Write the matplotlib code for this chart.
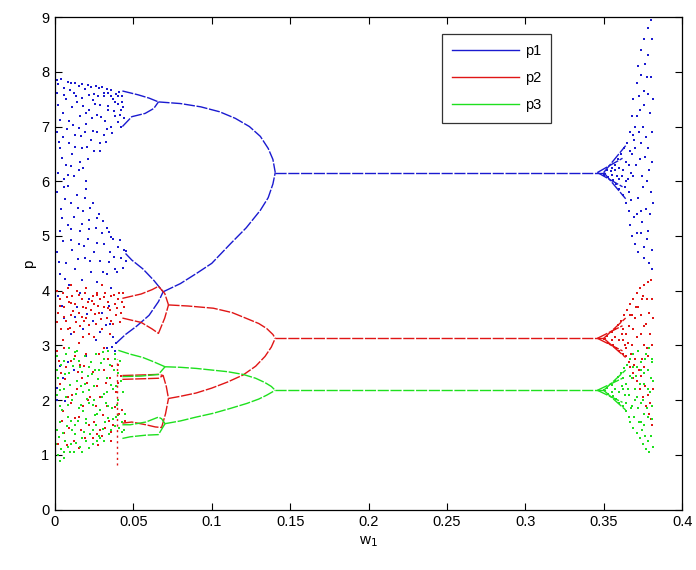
import matplotlib
matplotlib.use("Agg")
import matplotlib.pyplot as plt
from matplotlib.lines import Line2D

plt.rcParams['font.family'] = ['Liberation Sans', 'DejaVu Sans']

# ---------------- data ----------------
x_ticks = [0, 0.05, 0.1, 0.15, 0.2, 0.25, 0.3, 0.35, 0.4]
x_tick_labels = ['0', '0.05', '0.1', '0.15', '0.2', '0.25', '0.3', '0.35', '0.4']
y_ticks = [0, 1, 2, 3, 4, 5, 6, 7, 8, 9]
series_names = ['p1', 'p2', 'p3']
series_colors = ['#1a1ad0', '#e01515', '#1ee01e']

# periodic branches: list of (w list, p list)
p1_branches = [
    ([0.1405, 0.352], [6.16, 6.16]),
    ([0.346, 0.362], [6.16, 6.42]),
    ([0.346, 0.362], [6.16, 5.9]),
    ([0.350, 0.364], [6.16, 6.65]),
    ([0.350, 0.364], [6.16, 5.68]),
    ([0.066, 0.08, 0.093, 0.105, 0.115, 0.124, 0.131, 0.136, 0.139, 0.1405],
     [7.45, 7.42, 7.36, 7.27, 7.15, 7.0, 6.82, 6.6, 6.4, 6.16]),
    ([0.069, 0.08, 0.0905, 0.1, 0.112, 0.122, 0.131, 0.136, 0.139, 0.1405],
     [3.98, 4.13, 4.32, 4.5, 4.86, 5.15, 5.47, 5.7, 5.95, 6.16]),
    ([0.043, 0.053, 0.06, 0.066], [7.65, 7.58, 7.52, 7.45]),
    ([0.043, 0.049, 0.0575, 0.063, 0.066], [7.0, 7.18, 7.24, 7.33, 7.45]),
    ([0.045, 0.049, 0.056, 0.063, 0.069], [4.68, 4.56, 4.4, 4.19, 3.98]),
    ([0.039, 0.045, 0.052, 0.06, 0.066, 0.069], [3.04, 3.2, 3.35, 3.55, 3.8, 3.98]),
]
p2_branches = [
    ([0.1405, 0.352], [3.13, 3.13]),
    ([0.346, 0.362], [3.13, 3.36]),
    ([0.346, 0.362], [3.13, 2.9]),
    ([0.350, 0.364], [3.13, 3.5]),
    ([0.350, 0.364], [3.13, 2.78]),
    ([0.0724, 0.085, 0.101, 0.113, 0.1224, 0.13, 0.135, 0.139, 0.1405],
     [3.74, 3.72, 3.68, 3.6, 3.49, 3.4, 3.31, 3.2, 3.13]),
    ([0.0724, 0.08, 0.09, 0.1, 0.11, 0.12, 0.128, 0.134, 0.138, 0.1405],
     [2.03, 2.07, 2.13, 2.22, 2.33, 2.46, 2.62, 2.8, 2.97, 3.13]),
    ([0.043, 0.055, 0.062, 0.066, 0.070, 0.0724], [3.86, 3.94, 4.02, 4.08, 3.95, 3.74]),
    ([0.043, 0.055, 0.062, 0.066, 0.070, 0.0724], [3.5, 3.42, 3.3, 3.22, 3.5, 3.74]),
    ([0.043, 0.055, 0.066, 0.069, 0.071, 0.0724], [2.45, 2.46, 2.47, 2.45, 2.25, 2.03]),
    ([0.043, 0.055, 0.066, 0.069], [2.38, 2.39, 2.4, 2.45]),
    ([0.043, 0.049, 0.058, 0.064, 0.068, 0.0705, 0.0724], [1.58, 1.6, 1.55, 1.51, 1.5, 1.75, 2.03]),
]
p2_streak = ([0.0394, 0.0394], [0.81, 2.75])
p3_branches = [
    ([0.1405, 0.352], [2.18, 2.18]),
    ([0.346, 0.362], [2.18, 2.4]),
    ([0.346, 0.362], [2.18, 1.96]),
    ([0.350, 0.364], [2.18, 2.55]),
    ([0.350, 0.364], [2.18, 1.82]),
    ([0.0702, 0.08, 0.09, 0.1, 0.11, 0.12, 0.128, 0.134, 0.138, 0.1405],
     [2.61, 2.6, 2.58, 2.55, 2.52, 2.47, 2.4, 2.32, 2.25, 2.18]),
    ([0.0702, 0.08, 0.09, 0.101, 0.112, 0.1224, 0.13, 0.135, 0.1405],
     [1.57, 1.62, 1.69, 1.76, 1.85, 1.94, 2.02, 2.09, 2.18]),
    ([0.0404, 0.048, 0.056, 0.063, 0.0702], [2.91, 2.84, 2.78, 2.7, 2.61]),
    ([0.043, 0.055, 0.066, 0.0702], [2.43, 2.44, 2.47, 2.61]),
    ([0.043, 0.048, 0.058, 0.066, 0.068, 0.0702], [1.55, 1.55, 1.6, 1.69, 1.66, 1.57]),
    ([0.043, 0.048, 0.058, 0.066, 0.0702], [1.3, 1.33, 1.36, 1.37, 1.57]),
]

# chaotic points (w, p)
p1_chaos = [
    (0.001,7.85),(0.002,7.78),(0.004,7.86),(0.006,7.7),(0.008,7.82),(0.010,7.8),(0.012,7.62),(0.013,7.79),
    (0.015,7.74),(0.017,7.78),(0.019,7.68),(0.021,7.76),(0.023,7.72),(0.025,7.6),(0.026,7.74),(0.028,7.7),
    (0.030,7.72),(0.031,7.55),(0.033,7.68),(0.034,7.62),(0.036,7.66),(0.037,7.5),(0.039,7.6),(0.040,7.42),
    (0.041,7.64),(0.042,7.3),(0.043,7.55),(0.044,7.15),
    (0.002,7.4),(0.005,7.25),(0.007,7.5),(0.009,7.1),(0.011,7.35),(0.014,7.45),(0.016,7.2),(0.018,7.38),
    (0.02,7.05),(0.022,7.3),(0.024,7.48),(0.027,7.22),(0.029,7.4),(0.032,7.1),(0.034,7.3),(0.036,7.0),
    (0.038,7.2),(0.040,7.08),(0.042,7.0),
    (0.0015,7.62),(0.0035,7.12),(0.0055,7.58),(0.0075,6.95),(0.0095,7.66),(0.0115,7.02),(0.0135,7.55),
    (0.0155,6.98),(0.0175,7.52),(0.0195,7.25),(0.0215,7.58),(0.0235,7.15),(0.0255,7.42),(0.0275,7.56),
    (0.0295,7.18),(0.0315,7.62),(0.0335,7.38),(0.0355,7.55),(0.0375,7.28),(0.0385,7.45),(0.0405,7.55),
    (0.0415,7.22),(0.0425,7.45),(0.0435,7.35),
    (0.001,6.9),(0.003,6.6),(0.005,6.8),(0.007,6.3),(0.009,6.7),(0.011,6.5),(0.013,6.85),(0.015,6.2),
    (0.017,6.6),(0.019,6.9),(0.021,6.4),(0.023,6.75),(0.025,6.55),(0.027,6.9),(0.029,6.7),(0.031,6.85),
    (0.033,6.95),(0.002,6.15),(0.006,6.05),(0.012,6.1),(0.016,6.35),(0.020,6.0),(0.018,6.25),
    (0.0045,6.42),(0.0085,6.12),(0.0125,6.62),(0.0165,6.82),(0.0205,6.62),(0.0245,6.92),(0.0285,6.55),
    (0.0325,6.72),(0.0365,6.88),(0.0105,6.28),(0.0025,6.72),
    (0.001,5.8),(0.004,5.5),(0.006,5.9),(0.008,5.2),(0.010,5.6),(0.012,5.35),(0.014,5.75),(0.016,5.1),
    (0.018,5.45),(0.020,5.85),(0.022,5.3),(0.024,5.6),(0.026,5.15),(0.028,5.4),(0.030,5.05),(0.019,5.7),
    (0.003,5.1),(0.033,5.15),
    (0.0045,5.32),(0.0065,5.68),(0.0085,5.92),(0.0105,5.12),(0.0145,5.52),(0.0175,5.22),(0.0225,5.52),
    (0.0265,5.32),(0.0305,5.28),(0.0345,5.08),(0.0215,5.12),
    (0.001,4.7),(0.003,4.3),(0.005,4.9),(0.007,4.5),(0.009,4.1),(0.011,4.75),(0.013,4.4),(0.015,4.85),
    (0.017,4.2),(0.019,4.6),(0.021,4.95),(0.023,4.35),(0.025,4.7),(0.027,4.15),(0.029,4.55),(0.031,4.85),
    (0.033,4.3),(0.035,4.7),(0.037,4.95),(0.038,4.4),(0.040,4.8),(0.042,4.6),(0.044,4.75),(0.045,4.55),
    (0.036,4.05),
    (0.0025,4.52),(0.0065,4.22),(0.0105,4.92),(0.0145,4.58),(0.0185,4.82),(0.0225,4.55),(0.0265,4.88),
    (0.0305,4.35),(0.0345,4.52),(0.0375,4.62),(0.0395,4.35),(0.0415,4.92),(0.0435,4.42),(0.0455,4.72),
    (0.0355,4.98),
    (0.002,3.9),(0.006,3.5),(0.01,3.2),(0.014,3.7),(0.018,3.3),(0.022,3.85),(0.026,3.1),(0.03,3.6),
    (0.033,2.95),(0.035,3.4),(0.037,3.15),(0.038,2.9),(0.039,3.05),(0.028,2.85),(0.016,3.95),(0.024,3.45),
    (0.0045,3.72),(0.0125,3.52),(0.0205,3.58),(0.0285,3.25),(0.0325,3.38),(0.0365,2.98),(0.0345,3.72),
    (0.001,2.0),(0.003,1.9),(0.005,2.4),(0.008,2.7),(0.012,2.55),(0.02,2.8),
    (0.0015,2.22),(0.0035,2.62),(0.0065,1.98),
    (0.350,6.12),(0.352,6.2),(0.353,6.08),(0.355,6.25),(0.356,6.02),(0.357,6.3),(0.358,5.95),(0.359,6.4),
    (0.360,5.85),(0.361,6.5),(0.362,5.75),(0.363,6.6),(0.364,5.6),(0.362,6.2),(0.360,6.05),(0.364,6.0),
    (0.365,6.7),(0.366,5.45),(0.366,6.3),(0.367,5.2),(0.367,6.9),(0.368,7.2),(0.368,5.0),(0.369,6.1),
    (0.369,7.5),(0.370,4.85),(0.370,6.6),(0.371,7.8),(0.371,5.4),(0.372,8.1),(0.372,4.7),(0.373,6.4),
    (0.373,7.3),(0.374,8.4),(0.374,5.05),(0.375,5.9),(0.375,7.0),(0.376,8.6),(0.376,4.6),(0.377,6.8),
    (0.377,5.5),(0.378,8.8),(0.378,7.6),(0.379,4.5),(0.379,6.2),(0.380,8.95),(0.380,5.8),(0.380,7.9),
    (0.381,4.4),(0.381,6.9),(0.378,5.1),(0.376,7.4),(0.374,6.7),(0.372,5.7),(0.370,7.0),(0.368,6.5),
    (0.366,5.8),
    (0.3655,6.05),(0.3665,6.55),(0.3675,5.65),(0.3685,6.85),(0.3695,5.35),(0.3705,6.3),(0.3715,7.2),
    (0.3715,5.05),(0.3725,6.9),(0.3735,5.45),(0.3735,7.95),(0.3745,6.1),(0.3755,7.65),(0.3755,4.8),
    (0.3765,6.45),(0.3775,7.9),(0.3775,4.95),(0.3785,6.6),(0.3785,8.3),(0.3795,5.4),(0.3795,7.25),
    (0.3805,8.6),(0.3805,4.75),(0.3805,6.35),(0.3812,7.5),(0.3812,5.6),(0.3725,7.55),(0.3745,5.25),
    (0.3765,8.15),(0.3775,6.0),(0.3695,6.75),(0.3675,6.15),(0.3645,6.35),(0.3635,5.9),(0.3615,6.1),
    (0.3595,6.25),(0.3585,6.1),(0.3575,6.2),(0.3555,6.12),(0.3545,6.18),
]
p2_chaos = [
    (0.001,4.0),(0.002,3.6),(0.003,3.85),(0.004,3.3),(0.005,3.95),(0.006,3.7),(0.007,3.45),(0.008,4.05),
    (0.009,3.8),(0.010,3.55),(0.011,3.9),(0.012,3.25),(0.013,3.75),(0.014,4.0),(0.015,3.6),(0.016,3.35),
    (0.017,3.85),(0.018,3.7),(0.019,3.95),(0.020,3.5),(0.021,3.8),(0.022,3.2),(0.023,3.65),(0.024,3.9),
    (0.025,3.75),(0.026,3.4),(0.027,3.95),(0.028,3.6),(0.029,3.85),(0.030,3.3),(0.031,3.7),(0.032,3.95),
    (0.033,3.5),(0.034,3.8),(0.035,3.65),(0.036,3.9),(0.037,3.4),(0.038,3.75),(0.039,3.55),(0.040,3.85),
    (0.041,3.95),(0.042,3.6),(0.043,3.8),(0.044,3.7),(0.005,3.1),(0.015,3.05),(0.025,3.15),(0.035,3.2),
    (0.01,4.1),(0.02,4.05),(0.03,4.1),(0.018,3.15),(0.008,3.3),
    (0.0015,3.42),(0.0035,3.72),(0.0055,3.52),(0.0075,3.88),(0.0095,3.32),(0.0115,3.62),(0.0135,3.42),
    (0.0155,3.92),(0.0175,3.52),(0.0195,3.68),(0.0215,3.38),(0.0235,3.82),(0.0255,3.58),(0.0275,3.72),
    (0.0295,3.48),(0.0315,3.88),(0.0335,3.68),(0.0355,3.45),(0.0375,3.92),(0.0395,3.68),(0.0415,3.42),
    (0.0435,3.95),(0.0105,3.78),(0.0265,3.92),(0.0185,3.45),
    (0.001,2.9),(0.003,2.3),(0.005,1.8),(0.007,2.6),(0.009,1.5),(0.011,2.1),(0.013,2.8),(0.015,1.7),
    (0.017,2.4),(0.019,1.3),(0.021,2.0),(0.023,2.7),(0.025,1.6),(0.027,2.25),(0.029,1.45),(0.031,2.55),
    (0.033,1.9),(0.035,2.4),(0.037,1.55),(0.039,2.15),(0.040,2.65),(0.041,1.75),(0.042,2.45),(0.043,1.6),
    (0.002,1.2),(0.006,1.4),(0.012,1.25),(0.018,1.9),(0.024,1.3),(0.030,1.35),(0.036,1.25),(0.014,2.2),
    (0.022,1.55),(0.028,2.85),(0.034,2.75),(0.016,2.65),(0.004,2.5),(0.010,1.95),(0.026,1.9),(0.032,1.5),
    (0.0025,2.72),(0.0045,1.62),(0.0065,2.38),(0.0085,2.05),(0.0105,2.72),(0.0125,1.68),(0.0145,2.52),
    (0.0165,1.45),(0.0185,2.62),(0.0205,2.32),(0.0225,2.05),(0.0245,2.52),(0.0265,1.38),(0.0285,2.05),
    (0.0305,1.72),(0.0325,2.32),(0.0345,1.62),(0.0365,2.62),(0.0385,1.88),(0.0405,2.32),(0.0425,1.82),
    (0.0445,1.62),(0.0155,1.12),(0.0275,1.18),(0.0355,1.42),(0.0075,1.18),(0.0195,2.85),(0.0315,2.95),
    (0.0055,2.95),
    (0.350,3.12),(0.352,3.18),(0.353,3.05),(0.355,3.25),(0.356,3.0),(0.357,3.3),(0.358,2.95),(0.359,3.38),
    (0.360,2.9),(0.361,3.45),(0.362,2.85),(0.363,3.55),(0.364,2.8),(0.362,3.1),(0.364,3.2),(0.365,3.65),
    (0.366,2.7),(0.366,3.35),(0.367,3.75),(0.367,2.6),(0.368,3.0),(0.369,3.85),(0.369,2.5),(0.370,3.5),
    (0.371,3.95),(0.371,2.35),(0.372,2.9),(0.372,3.7),(0.373,4.05),(0.373,2.2),(0.374,3.2),(0.375,2.05),
    (0.375,3.9),(0.376,2.6),(0.376,4.1),(0.377,1.9),(0.377,3.4),(0.378,2.8),(0.378,4.15),(0.379,1.75),
    (0.379,3.6),(0.380,2.4),(0.380,4.2),(0.381,1.55),(0.381,3.0),(0.380,1.65),(0.374,2.45),(0.370,2.75),
    (0.368,3.55),(0.376,3.0),
    (0.3655,3.05),(0.3665,3.55),(0.3675,2.85),(0.3685,3.3),(0.3695,2.65),(0.3705,3.7),(0.3715,3.15),
    (0.3725,2.55),(0.3735,3.55),(0.3745,2.75),(0.3755,3.35),(0.3765,2.25),(0.3775,3.85),(0.3785,2.1),
    (0.3795,3.2),(0.3805,2.7),(0.3805,3.85),(0.3812,2.2),(0.3812,3.5),(0.3795,1.95),(0.3635,3.0),
    (0.3615,3.2),(0.3595,3.1),(0.3575,3.15),(0.3555,3.1),(0.3625,3.3),(0.3645,2.95),(0.3685,2.4),
    (0.3745,3.85),(0.3775,2.95),
]
p3_chaos = [
    (0.001,2.8),(0.002,2.4),(0.003,1.9),(0.004,2.65),(0.005,1.4),(0.006,2.2),(0.007,2.85),(0.008,1.7),
    (0.009,2.5),(0.010,1.2),(0.011,2.0),(0.012,2.75),(0.013,1.55),(0.014,2.35),(0.015,1.85),(0.016,2.6),
    (0.017,1.3),(0.018,2.15),(0.019,2.8),(0.020,1.65),(0.021,2.45),(0.022,1.95),(0.023,2.7),(0.024,1.45),
    (0.025,2.25),(0.026,2.85),(0.027,1.75),(0.028,2.55),(0.029,1.3),(0.030,2.05),(0.031,2.75),(0.032,1.6),
    (0.033,2.4),(0.034,1.9),(0.035,2.65),(0.036,1.45),(0.037,2.2),(0.038,2.85),(0.039,1.7),(0.040,2.5),
    (0.041,1.5),(0.042,2.35),(0.043,1.6),(0.044,1.45),(0.002,1.0),(0.004,1.1),(0.006,0.95),(0.008,1.15),
    (0.003,1.6),(0.007,2.05),(0.012,1.05),(0.016,1.15),(0.020,1.25),(0.024,1.2),(0.028,1.35),(0.001,2.1),
    (0.009,2.95),(0.014,2.9),(0.019,2.3),(0.022,2.6),(0.026,1.55),(0.031,1.25),(0.034,2.9),(0.037,1.65),
    (0.040,2.0),(0.0,0.7),(0.011,1.45),(0.018,1.8),(0.025,2.0),(0.033,2.15),(0.039,2.25),
    (0.0015,2.55),(0.0035,2.18),(0.0055,2.72),(0.0075,1.52),(0.0095,2.28),(0.0115,2.62),(0.0135,2.12),
    (0.0155,2.72),(0.0175,2.52),(0.0195,1.58),(0.0215,2.18),(0.0235,2.48),(0.0255,1.72),(0.0275,2.38),
    (0.0295,2.68),(0.0315,2.12),(0.0335,1.68),(0.0355,2.28),(0.0375,2.55),(0.0395,1.92),(0.0415,2.72),
    (0.0435,2.15),(0.0445,1.75),
    (0.0025,1.32),(0.0045,1.82),(0.0065,1.25),(0.0085,1.92),(0.0105,1.62),(0.0125,1.38),(0.0145,1.62),
    (0.0165,1.92),(0.0185,1.42),(0.0205,2.02),(0.0225,1.38),(0.0245,1.92),(0.0265,1.25),(0.0285,1.82),
    (0.0305,1.48),(0.0325,1.95),(0.0345,1.38),(0.0365,1.85),(0.0385,1.52),(0.0405,1.72),(0.0425,1.42),
    (0.0015,1.45),(0.0055,1.05),(0.0095,1.05),(0.0135,1.22),(0.0175,1.05),(0.0215,1.12),(0.0035,0.88),
    (0.0005,1.2),(0.0255,2.55),(0.0165,2.25),(0.0065,2.48),(0.0125,2.88),(0.0305,2.88),(0.0385,2.75),
    (0.350,2.18),(0.352,2.22),(0.353,2.12),(0.355,2.28),(0.356,2.08),(0.357,2.35),(0.358,2.02),(0.359,2.42),
    (0.360,1.95),(0.361,2.5),(0.362,1.9),(0.362,2.2),(0.363,2.58),(0.364,1.8),(0.364,2.3),(0.365,2.65),
    (0.366,1.7),(0.366,2.1),(0.367,2.75),(0.367,1.6),(0.368,2.4),(0.369,2.85),(0.369,1.5),(0.370,2.0),
    (0.371,2.6),(0.371,1.4),(0.372,2.9),(0.372,1.85),(0.373,1.3),(0.373,2.3),(0.374,2.7),(0.375,1.2),
    (0.375,2.0),(0.376,2.5),(0.376,1.55),(0.377,2.85),(0.377,1.1),(0.378,2.2),(0.378,1.7),(0.379,2.95),
    (0.379,1.05),(0.380,2.4),(0.380,1.35),(0.381,1.9),(0.381,2.7),(0.370,2.2),(0.368,1.9),(0.374,1.6),
    (0.3655,2.2),(0.3665,2.45),(0.3675,1.85),(0.3685,2.6),(0.3695,1.7),(0.3705,2.45),(0.3715,2.05),
    (0.3725,1.6),(0.3735,2.55),(0.3745,1.45),(0.3755,2.3),(0.3765,1.35),(0.3765,2.75),(0.3775,1.85),
    (0.3785,2.55),(0.3785,1.25),(0.3795,2.15),(0.3805,1.65),(0.3805,2.75),(0.3812,1.15),(0.3812,2.35),
    (0.3635,2.1),(0.3615,2.25),(0.3595,2.15),(0.3575,2.2),(0.3555,2.15),(0.3625,2.4),(0.3645,1.95),
    (0.3735,1.95),(0.3755,1.75),
]

# ---------------- drawing ----------------
fig = plt.figure(figsize=(6.96, 5.70), dpi=100)
ax = fig.add_axes([0.079, 0.106, 0.901, 0.864])

all_branches = [p1_branches, p2_branches, p3_branches]
all_chaos = [p1_chaos, p2_chaos, p3_chaos]

for branches, chaos, color in zip(all_branches, all_chaos, series_colors):
    for bw, bp in branches:
        ax.plot(bw, bp, color=color, linewidth=1.0, linestyle=(0, (8, 1.2)))
    cw = [c[0] for c in chaos]
    cp = [c[1] for c in chaos]
    ax.plot(cw, cp, linestyle='none', marker='s', markersize=1.9,
            markeredgewidth=0, color=color)

ax.plot(p2_streak[0], p2_streak[1], color=series_colors[1], linewidth=1.0,
        linestyle=(0, (1.5, 2.5)))

ax.set_xlim(0, 0.4)
ax.set_ylim(0, 9)
ax.set_xticks(x_ticks)
ax.set_xticklabels(x_tick_labels)
ax.set_yticks(y_ticks)
ax.tick_params(direction='in', top=True, right=True, length=5, width=0.8,
               labelsize=10.5, colors='black', pad=4)
for s in ax.spines.values():
    s.set_linewidth(0.9)
ax.set_xlabel(r'w$_1$', fontsize=11)
ax.set_ylabel('p', fontsize=11)

handles = [Line2D([0], [0], color=c, linewidth=1.0) for c in series_colors]
leg = ax.legend(handles, series_names, loc='upper left', bbox_to_anchor=(0.617, 0.966),
                fontsize=10.5, handlelength=4.6, frameon=True, fancybox=False,
                borderaxespad=0, labelspacing=0.9, borderpad=0.7, handletextpad=0.4)
leg.get_frame().set_edgecolor('black')
leg.get_frame().set_linewidth(0.9)

fig.savefig('out.png', dpi=100)
